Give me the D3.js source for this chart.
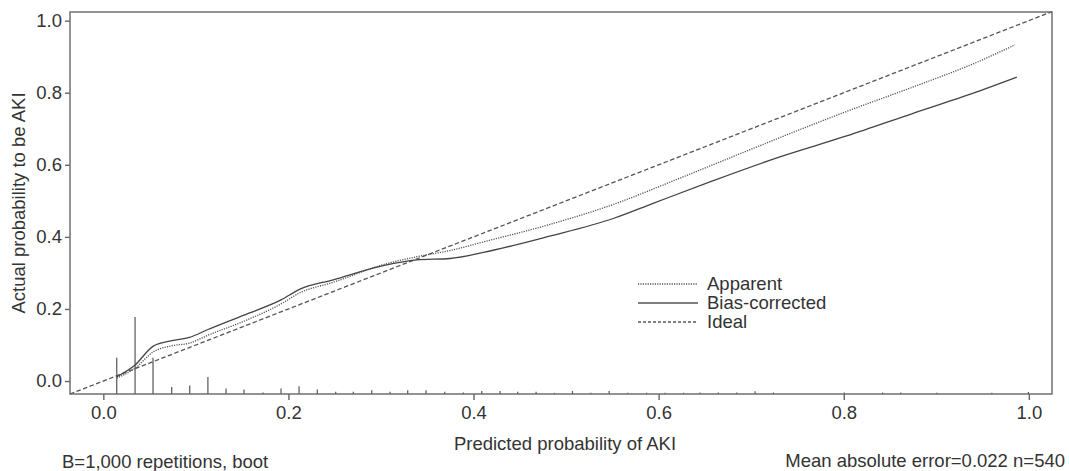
<!DOCTYPE html>
<html>
<head>
<meta charset="utf-8">
<script src="https://cdn.jsdelivr.net/npm/d3@7"></script>
<style>
  body { margin: 0; background: #fff; }
  svg { display: block; font-family: "Liberation Sans", Arial, sans-serif; }
</style>
</head>
<body>
<div id="chart"></div>
<script>
// tick values
const xTicks = [0, 0.2, 0.4, 0.6, 0.8, 1.0];
const yTicks = [0, 0.2, 0.4, 0.6, 0.8, 1.0];

// apparent calibration curve (predicted, actual)
const apparentX = [0.0145, 0.034, 0.054, 0.074, 0.093, 0.113, 0.152, 0.192, 0.2125, 0.2485, 0.3025, 0.3386, 0.3746, 0.4106, 0.479, 0.551, 0.623, 0.695, 0.753, 0.803, 0.875, 0.947, 0.985];
const apparentY = [0.008, 0.035, 0.081, 0.098, 0.105, 0.127, 0.166, 0.214, 0.245, 0.274, 0.323, 0.345, 0.362, 0.386, 0.432, 0.490, 0.563, 0.638, 0.698, 0.748, 0.816, 0.888, 0.933];

// bias-corrected curve
const correctedX = [0.0145, 0.034, 0.054, 0.074, 0.093, 0.113, 0.152, 0.192, 0.2125, 0.2485, 0.3025, 0.3386, 0.3746, 0.4106, 0.479, 0.551, 0.594, 0.659, 0.731, 0.803, 0.875, 0.947, 0.987];
const correctedY = [0.012, 0.044, 0.097, 0.112, 0.121, 0.143, 0.183, 0.225, 0.255, 0.281, 0.320, 0.336, 0.340, 0.357, 0.400, 0.451, 0.493, 0.556, 0.622, 0.680, 0.743, 0.805, 0.843];

// distribution of predicted risks (rug spikes)
const rugX = [0.0145, 0.0343, 0.0537, 0.0739, 0.0934, 0.113, 0.1326, 0.152, 0.1726, 0.192, 0.2115, 0.2312, 0.2511, 0.2701, 0.29, 0.3098, 0.3289, 0.3487, 0.3689, 0.389, 0.4089, 0.4287, 0.4478, 0.4676, 0.4874, 0.5069, 0.5267, 0.5465, 0.5666, 0.587, 0.607, 0.627, 0.6447, 0.6645, 0.6844, 0.7042, 0.724, 0.8006, 0.842, 0.8616, 0.9005, 0.960, 0.9995];
const rugFreq = [47, 100, 47, 9, 11, 22, 7, 6, 2, 7, 10, 6, 3, 3, 5, 3, 5, 5, 3, 2, 4, 4, 3, 3, 1.5, 4, 1.5, 4, 1.5, 1.5, 1.5, 1.5, 2, 2, 2, 3.5, 2, 2, 2, 2, 1.5, 1.5, 2.5];

const legendLabels = ["Apparent", "Bias-corrected", "Ideal"];

const width = 1069, height = 471;
const margin = { top: 12, right: 17, bottom: 77, left: 70 };
const ink = "#333";
const lineCol = "#555";

const svg = d3.select("#chart").append("svg")
    .attr("width", width)
    .attr("height", height);

const x = d3.scaleLinear()
    .domain([-0.036, 1.025])
    .range([margin.left, width - margin.right]);

const y = d3.scaleLinear()
    .domain([-0.036, 1.024])
    .range([height - margin.bottom, margin.top]);

const rugH = d3.scaleLinear()
    .domain([0, d3.max(rugFreq)])
    .range([0, 77]);

// rug spikes
svg.append("g")
    .selectAll("line")
    .data(rugX.map((d, i) => [d, rugFreq[i]]))
    .enter().append("line")
    .attr("x1", d => x(d[0]))
    .attr("x2", d => x(d[0]))
    .attr("y1", y.range()[0])
    .attr("y2", d => y.range()[0] - rugH(d[1]))
    .attr("stroke", lineCol)
    .attr("stroke-width", 1.2);

const line = d3.line()
    .x(d => x(d[0]))
    .y(d => y(d[1]))
    .curve(d3.curveMonotoneX);

// ideal
svg.append("path")
    .datum(x.domain().map(d => [d, d]))
    .attr("fill", "none")
    .attr("stroke", lineCol)
    .attr("stroke-width", 1.3)
    .attr("stroke-dasharray", "4.5,2.5")
    .attr("d", d3.line().x(d => x(d[0])).y(d => y(d[1])));

// apparent
svg.append("path")
    .datum(apparentX.map((d, i) => [d, apparentY[i]]))
    .attr("fill", "none")
    .attr("stroke", lineCol)
    .attr("stroke-width", 1.3)
    .attr("stroke-dasharray", "1.2,1.2")
    .attr("d", line);

// bias-corrected
svg.append("path")
    .datum(correctedX.map((d, i) => [d, correctedY[i]]))
    .attr("fill", "none")
    .attr("stroke", "#444")
    .attr("stroke-width", 1.3)
    .attr("d", line);

// box
svg.append("rect")
    .attr("x", margin.left)
    .attr("y", margin.top)
    .attr("width", width - margin.left - margin.right)
    .attr("height", height - margin.top - margin.bottom)
    .attr("fill", "none")
    .attr("stroke", "#666")
    .attr("stroke-width", 1.4);

// axes
const xAxis = svg.append("g")
    .attr("transform", `translate(0,${height - margin.bottom})`)
    .call(d3.axisBottom(x).tickValues(xTicks).tickFormat(d3.format(".1f")).tickSize(6).tickPadding(5.5));

const yAxis = svg.append("g")
    .attr("transform", `translate(${margin.left},0)`)
    .call(d3.axisLeft(y).tickValues(yTicks).tickFormat(d3.format(".1f")).tickSize(5).tickPadding(3));

[xAxis, yAxis].forEach(g => {
    g.select(".domain").remove();
    g.selectAll(".tick line").attr("stroke", "#666").attr("stroke-width", 1.4);
    g.selectAll(".tick text")
        .attr("fill", ink)
        .style("font-size", "18.5px")
        .style("font-family", "'Liberation Sans', Arial, sans-serif");
});

// axis titles
svg.append("text")
    .attr("x", (margin.left + width - margin.right) / 2 + 4)
    .attr("y", 450)
    .attr("text-anchor", "middle")
    .attr("fill", ink)
    .style("font-size", "18.5px")
    .text("Predicted probability of AKI");

svg.append("text")
    .attr("transform", `translate(25,${(margin.top + height - margin.bottom) / 2}) rotate(-90)`)
    .attr("text-anchor", "middle")
    .attr("fill", ink)
    .style("font-size", "18.5px")
    .text("Actual probability to be AKI");

// legend
const legend = svg.append("g").attr("transform", "translate(638,284)");
const dashes = ["1.2,1.2", null, "3,2"];
legendLabels.forEach((lab, i) => {
    const row = legend.append("g").attr("transform", `translate(0,${i * 19})`);
    row.append("line")
        .attr("x1", 0).attr("x2", 60)
        .attr("stroke", lineCol)
        .attr("stroke-width", 1.3)
        .attr("stroke-dasharray", dashes[i]);
    row.append("text")
        .attr("x", 69)
        .attr("dy", "0.35em")
        .attr("fill", ink)
        .style("font-size", "18.5px")
        .text(lab);
});

// footnotes
svg.append("text")
    .attr("x", 62)
    .attr("y", 467.5)
    .attr("fill", ink)
    .style("font-size", "18.5px")
    .text("B=1,000 repetitions, boot");

svg.append("text")
    .attr("x", 1065)
    .attr("y", 467)
    .attr("text-anchor", "end")
    .attr("fill", ink)
    .style("font-size", "18.5px")
    .text("Mean absolute error=0.022 n=540");
</script>
</body>
</html>
